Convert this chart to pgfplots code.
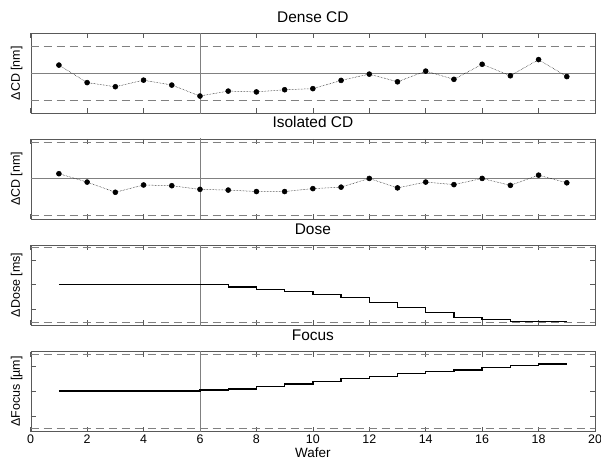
\documentclass[border=0pt]{standalone}
\usepackage{fontspec}
\setmainfont{Liberation Sans}
\usepackage{pgfplots}
\pgfplotsset{compat=1.18}

\pgfplotsset{
  wafer/.style={
    scale only axis, width=564.3bp, height=80bp, anchor=north west,
    xmin=0, xmax=20, xtick={0,2,...,20}, xticklabels={},
    tick align=inside, major tick length=5bp,
    axis line style={black!65}, tick style={black!65, line width=0.5bp},
    every axis title/.style={at={(0.5,1)}, anchor=base, yshift=11bp,
      font=\fontsize{15.5}{18}\selectfont},
    ylabel style={at={(axis description cs:-0.0248,0.5)}, anchor=center,
      font=\fontsize{12.5}{14}\selectfont},
    /pgf/number format/assume math mode=true,
  },
  refsolid/.style={gray, line width=0.7bp},
  refdash/.style={gray, line width=0.7bp, dash pattern=on 8bp off 5bp},
  cdline/.style={black, densely dotted, line width=0.5bp, mark=*,
    mark options={solid, fill=black}, mark size=2.5bp},
}

\begin{document}
\begin{tikzpicture}
\path[use as bounding box] (0,0) rectangle (601bp,-464bp);

% Dense CD
\begin{axis}[wafer, at={(30.7bp,-33.3bp)}, ymin=-1.46, ymax=1.46, ytick=\empty,
  title={Dense CD}, ylabel={ΔCD [nm]}]
\addplot[refdash] coordinates {(0,1) (20,1)};
\addplot[refdash] coordinates {(0,-1) (20,-1)};
\addplot[refsolid] coordinates {(0,0) (20,0)};
\addplot[refsolid] coordinates {(6,-2) (6,2)};
\addplot[cdline] coordinates {
(1,0.30) (2,-0.34) (3,-0.49) (4,-0.25) (5,-0.43) (6,-0.83) (7,-0.65)
(8,-0.68) (9,-0.60) (10,-0.56) (11,-0.26) (12,-0.03) (13,-0.31) (14,0.08)
(15,-0.22) (16,0.33) (17,-0.09) (18,0.50) (19,-0.12)};
\end{axis}

% Isolated CD
\begin{axis}[wafer, at={(30.7bp,-138.8bp)}, ymin=-1.1, ymax=1.1, ytick=\empty,
  title={Isolated CD}, ylabel={ΔCD [nm]}]
\addplot[refdash] coordinates {(0,1) (20,1)};
\addplot[refdash] coordinates {(0,-1) (20,-1)};
\addplot[refsolid] coordinates {(0,0) (20,0)};
\addplot[refsolid] coordinates {(6,-2) (6,2)};
\addplot[cdline] coordinates {
(1,0.14) (2,-0.09) (3,-0.37) (4,-0.17) (5,-0.19) (6,-0.29) (7,-0.31)
(8,-0.35) (9,-0.35) (10,-0.27) (11,-0.23) (12,0.01) (13,-0.25) (14,-0.09)
(15,-0.16) (16,0.01) (17,-0.18) (18,0.10) (19,-0.11)};
\end{axis}

% Dose
\begin{axis}[wafer, at={(30.7bp,-245bp)}, ymin=-1.63, ymax=1.6,
  ytick={-1,0,1}, yticklabels={}, title={Dose}, ylabel={ΔDose [ms]}]
\addplot[refdash] coordinates {(0,1.52) (20,1.52)};
\addplot[refdash] coordinates {(0,-1.52) (20,-1.52)};
\addplot[refsolid] coordinates {(6,-2) (6,2)};
\addplot[black, line width=1.3bp, const plot mark left] coordinates {
(1,0) (2,0) (3,0) (4,0) (5,0) (6,0) (7,-0.09) (8,-0.21) (9,-0.29)
(10,-0.41) (11,-0.51) (12,-0.72) (13,-0.92) (14,-1.12) (15,-1.32)
(16,-1.42) (17,-1.5) (18,-1.5) (19,-1.5)};
\end{axis}

% Focus
\begin{axis}[wafer, at={(30.7bp,-351.5bp)}, ymin=-1.63, ymax=1.6,
  ytick={-1,0,1}, yticklabels={}, title={Focus}, ylabel={ΔFocus [µm]},
  xticklabels={0,2,4,6,8,10,12,14,16,18,20},
  xticklabel style={font=\fontsize{12.5}{14}\selectfont},
  xlabel={Wafer},
  xlabel style={at={(axis description cs:0.5,-0.2625)}, anchor=center,
    font=\fontsize{13.5}{15}\selectfont}]
\addplot[refdash] coordinates {(0,1.5) (20,1.5)};
\addplot[refdash] coordinates {(0,-1.52) (20,-1.52)};
\addplot[refsolid] coordinates {(6,-2) (6,2)};
\addplot[black, line width=1.3bp, const plot mark left] coordinates {
(1,0) (2,0) (3,0) (4,0) (5,0) (6,0.05) (7,0.09) (8,0.2) (9,0.29)
(10,0.39) (11,0.5) (12,0.6) (13,0.71) (14,0.79) (15,0.85)
(16,0.95) (17,1.04) (18,1.1) (19,1.1)};
\end{axis}
\end{tikzpicture}
\end{document}
